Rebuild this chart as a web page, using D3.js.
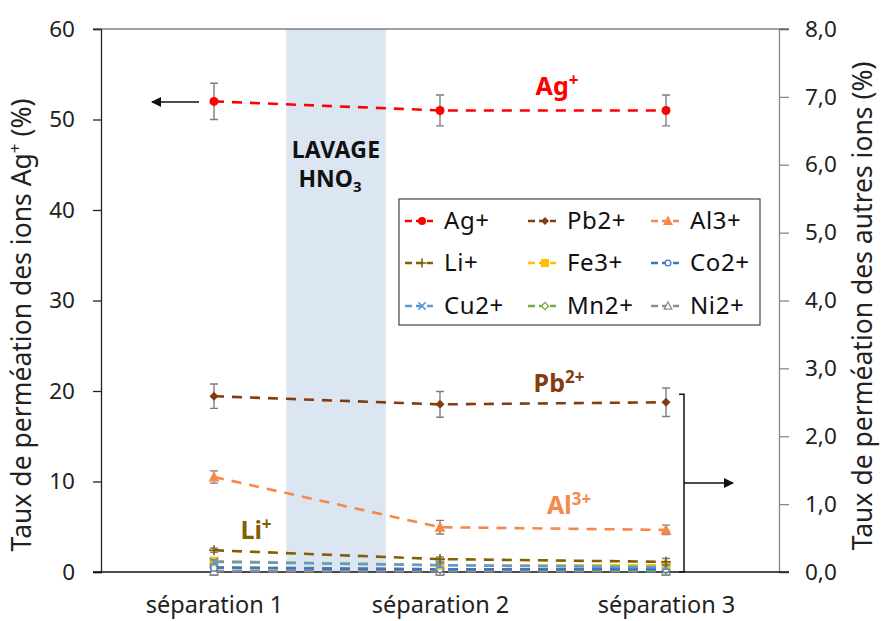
<!DOCTYPE html>
<html><head><meta charset="utf-8">
<script src="https://cdn.jsdelivr.net/npm/d3@7"></script>
<style>body{margin:0;background:#fff}svg{display:block;font-family:"Noto Sans","Open Sans",sans-serif}</style>
</head><body><svg id="c" width="882" height="621"></svg>
<script>
const categories = ["séparation 1", "séparation 2", "séparation 3"];
const leftTicks = [0, 10, 20, 30, 40, 50, 60];
const rightTicks = [0, 1, 2, 3, 4, 5, 6, 7, 8];
// Ag+ on the left axis (%)
const agValues = [52.0, 51.0, 51.0];
const agErr = [2.0, 1.7, 1.7];
// Other ions on the right axis (%)
const pbValues = [2.59, 2.47, 2.50];
const pbErr = [0.18, 0.19, 0.21];
const alValues = [1.40, 0.66, 0.62];
const alErr = [0.09, 0.10, 0.07];
const liValues = [0.32, 0.19, 0.15];
const liErr = [0.03, 0.03, 0.05];
const feValues = [0.16, 0.10, 0.10];
const feErr = [0.03, 0.03, 0.03];
const coValues = [0.06, 0.04, 0.04];
const coErr = [0.02, 0.02, 0.02];
const cuValues = [0.15, 0.10, 0.07];
const cuErr = [0.03, 0.03, 0.03];
const mnValues = [0.07, 0.04, 0.03];
const mnErr = [0.02, 0.02, 0.02];
const niValues = [0.01, 0.01, 0.01];
const niErr = [0.06, 0.06, 0.06];

const series = [
  {name:"Ag+", v:agValues, e:agErr, axis:"L", color:"#FF0000", sym:"circleF"},
  {name:"Pb2+", v:pbValues, e:pbErr, axis:"R", color:"#843C0C", sym:"diamondF"},
  {name:"Al3+", v:alValues, e:alErr, axis:"R", color:"#F4894B", sym:"triF"},
  {name:"Li+", v:liValues, e:liErr, axis:"R", color:"#806000", sym:"plus"},
  {name:"Fe3+", v:feValues, e:feErr, axis:"R", color:"#FFC000", sym:"squareF"},
  {name:"Co2+", v:coValues, e:coErr, axis:"R", color:"#4472C4", sym:"circleO"},
  {name:"Cu2+", v:cuValues, e:cuErr, axis:"R", color:"#5B9BD5", sym:"cross"},
  {name:"Mn2+", v:mnValues, e:mnErr, axis:"R", color:"#70AD47", sym:"diamondO"},
  {name:"Ni2+", v:niValues, e:niErr, axis:"R", color:"#8C8C8C", sym:"triO"}
];
const drawOrder = ["Ni2+","Mn2+","Co2+","Fe3+","Cu2+","Li+","Al3+","Pb2+","Ag+"];

const L = 101, R = 779, T = 29, B = 572;
const svg = d3.select("#c");
const x = d3.scalePoint().domain(categories).range([L, R]).padding(0.5);
const yL = d3.scaleLinear().domain([0, 60]).range([B, T]);
const yR = d3.scaleLinear().domain([0, 8]).range([B, T]);

// shaded washing band between séparation 1 and 2
const bx0 = x(categories[0]) + (x(categories[1]) - x(categories[0])) * 0.32;
const bx1 = x(categories[0]) + (x(categories[1]) - x(categories[0])) * 0.76;
svg.append("rect").attr("x", bx0).attr("y", T).attr("width", bx1 - bx0).attr("height", B - T)
  .attr("fill", "#DCE6F2");
svg.append("text").attr("x", (bx0 + bx1) / 2).attr("y", 158).attr("text-anchor", "middle")
  .attr("font-size", 23).attr("font-weight", "bold").attr("fill", "#111").attr("letter-spacing", 0.3)
  .text("LAVAGE");
const hno = svg.append("text").attr("x", (bx0 + bx1) / 2 - 6).attr("y", 187).attr("text-anchor", "middle")
  .attr("font-size", 23).attr("font-weight", "bold").attr("fill", "#111");
hno.append("tspan").text("HNO");
hno.append("tspan").attr("font-size", 15).attr("dy", 5).text("3");

// axes
const axL = svg.append("g").attr("transform", `translate(${L},0)`)
  .call(d3.axisLeft(yL).tickValues(leftTicks).tickSize(8).tickPadding(18));
axL.select(".domain").attr("stroke", "#222").attr("stroke-width", 1.3);
axL.selectAll(".tick line").attr("stroke", "#222").attr("stroke-width", 1.3);
axL.selectAll(".tick text").attr("font-size", 22.5).attr("fill", "#222").attr("font-family", "Noto Sans");

const axR = svg.append("g").attr("transform", `translate(${R},0)`)
  .call(d3.axisRight(yR).tickValues(rightTicks).tickSize(10).tickPadding(16)
    .tickFormat(d => d3.format(".1f")(d).replace(".", ",")));
axR.select(".domain").attr("stroke", "#888").attr("stroke-width", 1.3);
axR.selectAll(".tick line").attr("stroke", "#888").attr("stroke-width", 1.3);
axR.selectAll(".tick text").attr("font-size", 22.5).attr("fill", "#222").attr("font-family", "Noto Sans");

// top border
svg.append("line").attr("x1", L - 8).attr("x2", R + 10).attr("y1", T).attr("y2", T)
  .attr("stroke", "#444").attr("stroke-width", 1);

const axB = svg.append("g").attr("transform", `translate(0,${B})`)
  .call(d3.axisBottom(x).tickSize(0).tickPadding(24));
axB.select(".domain").attr("d", `M${L - 8},0H${R + 10}`).attr("stroke", "#111").attr("stroke-width", 1.5);
axB.selectAll(".tick text").attr("font-size", 23.5).attr("fill", "#222").attr("font-family", "Noto Sans");

// axis titles
const tl = svg.append("text").attr("transform", `translate(31,325) rotate(-90)`)
  .attr("text-anchor", "middle").attr("font-size", 26.5).attr("fill", "#222");
tl.append("tspan").text("Taux de perméation des ions Ag");
tl.append("tspan").attr("font-size", 17).attr("dy", -10).text("+");
tl.append("tspan").attr("dy", 10).text(" (%)");
svg.append("text").attr("transform", `translate(872,306) rotate(-90)`)
  .attr("text-anchor", "middle").attr("font-size", 26.5).attr("fill", "#222")
  .text("Taux de perméation des autres ions (%)");

// symbol drawer
function sym(g, type, cx, cy, color, scale = 1) {
  const s = scale;
  switch (type) {
    case "circleF": g.append("circle").attr("cx", cx).attr("cy", cy).attr("r", 4.5 * s).attr("fill", color); break;
    case "circleO": g.append("circle").attr("cx", cx).attr("cy", cy).attr("r", 3.2 * s).attr("fill", "#fff").attr("stroke", color).attr("stroke-width", 1.3); break;
    case "diamondF": g.append("path").attr("d", `M${cx},${cy - 4.5 * s}L${cx + 4.5 * s},${cy}L${cx},${cy + 4.5 * s}L${cx - 4.5 * s},${cy}Z`).attr("fill", color); break;
    case "diamondO": g.append("path").attr("d", `M${cx},${cy - 4 * s}L${cx + 4 * s},${cy}L${cx},${cy + 4 * s}L${cx - 4 * s},${cy}Z`).attr("fill", "#fff").attr("stroke", color).attr("stroke-width", 1.3); break;
    case "triF": g.append("path").attr("d", `M${cx},${cy - 6 * s}L${cx + 5.5 * s},${cy + 4.5 * s}L${cx - 5.5 * s},${cy + 4.5 * s}Z`).attr("fill", color); break;
    case "triO": g.append("path").attr("d", `M${cx},${cy - 4.5 * s}L${cx + 4.2 * s},${cy + 3.5 * s}L${cx - 4.2 * s},${cy + 3.5 * s}Z`).attr("fill", "#fff").attr("stroke", color).attr("stroke-width", 1.3); break;
    case "squareF": g.append("rect").attr("x", cx - 4.5 * s).attr("y", cy - 4.5 * s).attr("width", 9 * s).attr("height", 9 * s).attr("fill", color); break;
    case "plus": g.append("path").attr("d", `M${cx - 5 * s},${cy}H${cx + 5 * s}M${cx},${cy - 5 * s}V${cy + 5 * s}`).attr("stroke", color).attr("stroke-width", 1.6); break;
    case "cross": g.append("path").attr("d", `M${cx - 4 * s},${cy - 4 * s}L${cx + 4 * s},${cy + 4 * s}M${cx - 4 * s},${cy + 4 * s}L${cx + 4 * s},${cy - 4 * s}`).attr("stroke", color).attr("stroke-width", 1.6); break;
  }
}

const line = ys => d3.line().x((d, i) => x(categories[i])).y(d => ys(d));
const plot = svg.append("g");
drawOrder.forEach(n => {
  const s = series.find(q => q.name === n);
  const ys = s.axis === "L" ? yL : yR;
  const g = plot.append("g");
  g.append("path").attr("d", line(ys)(s.v)).attr("fill", "none").attr("stroke", s.color)
    .attr("stroke-width", 2.6).attr("stroke-dasharray", "10,8");
  s.v.forEach((v, i) => {
    const cx = x(categories[i]);
    const y0 = ys(v - s.e[i]), y1 = ys(v + s.e[i]);
    g.append("path").attr("d", `M${cx},${y0}V${y1}M${cx - 4},${y0}H${cx + 4}M${cx - 4},${y1}H${cx + 4}`)
      .attr("stroke", "#7F7F7F").attr("stroke-width", 1.4).attr("fill", "none");
    sym(g, s.sym, cx, ys(v), s.color);
  });
});

// series labels
function lab(xp, yp, base, sup, color) {
  const t = svg.append("text").attr("x", xp).attr("y", yp).attr("text-anchor", "middle")
    .attr("font-size", 25).attr("font-weight", "bold").attr("fill", color);
  t.append("tspan").text(base);
  t.append("tspan").attr("font-size", 17).attr("dy", -9).text(sup);
}
lab(557, 95, "Ag", "+", "#FF0000");
lab(559, 392, "Pb", "2+", "#843C0C");
lab(569, 514, "Al", "3+", "#F4894B");
lab(256, 539, "Li", "+", "#806000");

// arrows
svg.append("defs").append("marker").attr("id", "ah").attr("viewBox", "0 0 10 10").attr("refX", 9).attr("refY", 5)
  .attr("markerWidth", 10).attr("markerHeight", 10).attr("markerUnits", "userSpaceOnUse").attr("orient", "auto")
  .append("path").attr("d", "M0,0L10,5L0,10Z").attr("fill", "#111");
svg.append("line").attr("x1", 199).attr("x2", 152).attr("y1", 102).attr("y2", 102)
  .attr("stroke", "#111").attr("stroke-width", 1.3).attr("marker-end", "url(#ah)");
const bxp = 684;
svg.append("path").attr("d", `M${bxp - 5},${yR(pbValues[2]) - 8}H${bxp}V${B}H${bxp - 5}`)
  .attr("fill", "none").attr("stroke", "#111").attr("stroke-width", 1.5);
svg.append("line").attr("x1", bxp).attr("x2", 733).attr("y1", 483).attr("y2", 483)
  .attr("stroke", "#111").attr("stroke-width", 1.3).attr("marker-end", "url(#ah)");

// legend
const lg = svg.append("g");
lg.append("rect").attr("x", 399).attr("y", 199).attr("width", 361).attr("height", 126)
  .attr("fill", "#fff").attr("stroke", "#444").attr("stroke-width", 1.2);
const colX = [405, 528, 651], rowY = [221, 263, 306];
series.forEach((s, i) => {
  const cx = colX[i % 3], cy = rowY[Math.floor(i / 3)];
  lg.append("path").attr("d", `M${cx},${cy}H${cx + 28}`).attr("stroke", s.color).attr("stroke-width", 2.6)
    .attr("stroke-dasharray", "7,4");
  sym(lg, s.sym, cx + 17, cy, s.color, 0.9);
  lg.append("text").attr("x", cx + 39).attr("y", cy + 8).attr("font-size", 24).attr("letter-spacing", 0.6)
    .attr("fill", "#111").text(s.name);
});
</script></body></html>
